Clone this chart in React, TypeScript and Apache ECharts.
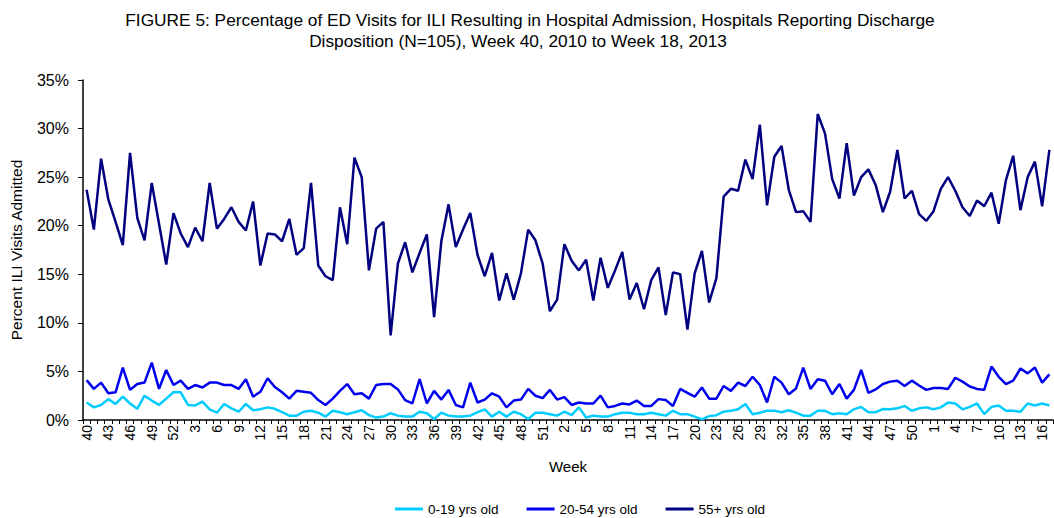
import React, { useEffect, useRef } from "react";
import * as echarts from "echarts";

const weeks: string[] = [
  "40","41","42","43","44","45","46","47","48","49","50","51","52",
  "1","2","3","4","5","6","7","8","9","10","11","12","13","14","15","16","17","18","19","20",
  "21","22","23","24","25","26","27","28","29","30","31","32","33","34","35","36","37","38","39","40",
  "41","42","43","44","45","46","47","48","49","50","51","52",
  "1","2","3","4","5","6","7","8","9","10","11","12","13","14","15","16","17","18","19","20",
  "21","22","23","24","25","26","27","28","29","30","31","32","33","34","35","36","37","38","39","40",
  "41","42","43","44","45","46","47","48","49","50","51","52",
  "1","2","3","4","5","6","7","8","9","10","11","12","13","14","15","16","17",
];

const age0to19: number[] = [
  1.8, 1.3, 1.55, 2.15, 1.65, 2.4, 1.7, 1.15, 2.5, 2.0,
  1.55, 2.2, 2.85, 2.85, 1.55, 1.5, 1.9, 1.1, 0.75, 1.65,
  1.2, 0.85, 1.65, 1.0, 1.1, 1.3, 1.15, 0.8, 0.45, 0.45,
  0.85, 0.95, 0.75, 0.35, 0.95, 0.8, 0.6, 0.8, 1.0, 0.5,
  0.25, 0.35, 0.7, 0.45, 0.35, 0.35, 0.85, 0.7, 0.1, 0.75,
  0.45, 0.35, 0.35, 0.45, 0.8, 1.1, 0.35, 0.85, 0.35, 0.85,
  0.6, 0.1, 0.75, 0.75, 0.6, 0.45, 0.85, 0.5, 1.3, 0.25,
  0.45, 0.35, 0.35, 0.6, 0.75, 0.75, 0.6, 0.6, 0.75, 0.6,
  0.45, 0.95, 0.6, 0.6, 0.35, 0.07, 0.4, 0.5, 0.85, 0.95,
  1.1, 1.65, 0.6, 0.75, 0.95, 0.95, 0.8, 1.0, 0.75, 0.45,
  0.45, 0.95, 0.95, 0.6, 0.7, 0.6, 1.1, 1.35, 0.8, 0.8,
  1.13, 1.1, 1.2, 1.45, 0.95, 1.2, 1.3, 1.1, 1.3, 1.8,
  1.7, 1.1, 1.35, 1.7, 0.6, 1.35, 1.5, 0.95, 0.95, 0.85,
  1.7, 1.5, 1.7, 1.5,
];

const age20to54: number[] = [
  4.1, 3.2, 3.85, 2.75, 2.85, 5.4, 3.1, 3.7, 3.85, 5.9,
  3.2, 5.15, 3.6, 4.05, 3.2, 3.6, 3.35, 3.85, 3.85, 3.6,
  3.6, 3.2, 4.2, 2.4, 2.9, 4.3, 3.4, 2.85, 2.2, 3.0,
  2.9, 2.8, 2.05, 1.55, 2.2, 3.0, 3.7, 2.65, 2.75, 2.2,
  3.6, 3.7, 3.7, 3.15, 2.05, 1.7, 4.2, 1.7, 3.0, 2.1,
  3.1, 1.55, 1.3, 3.85, 1.8, 2.1, 2.75, 2.4, 1.3, 2.0,
  2.1, 3.2, 2.5, 2.25, 3.1, 2.1, 2.35, 1.55, 1.8, 1.7,
  1.7, 2.5, 1.3, 1.45, 1.7, 1.6, 2.0, 1.45, 1.45, 2.15,
  2.05, 1.45, 3.2, 2.8, 2.4, 3.35, 2.2, 2.2, 3.5, 3.0,
  3.85, 3.5, 4.45, 3.6, 1.8, 4.45, 3.85, 2.65, 3.25, 5.4,
  3.2, 4.2, 4.05, 2.65, 3.7, 2.2, 3.1, 5.15, 2.8, 3.15,
  3.7, 3.95, 4.05, 3.5, 4.05, 3.55, 3.1, 3.3, 3.3, 3.2,
  4.35, 3.95, 3.45, 3.2, 3.1, 5.5, 4.45, 3.7, 4.05, 5.3,
  4.8, 5.4, 3.85, 4.7,
];

const age55plus: number[] = [
  23.7, 19.6, 26.9, 22.7, 20.4, 18.0, 27.5, 20.8, 18.5, 24.4,
  20.2, 16.0, 21.3, 19.2, 17.8, 19.8, 18.4, 24.4, 19.7, 20.7,
  21.9, 20.4, 19.5, 22.5, 15.9, 19.2, 19.1, 18.4, 20.7, 17.0,
  17.7, 24.4, 15.9, 14.8, 14.4, 21.9, 18.1, 27.0, 25.0, 15.4,
  19.7, 20.4, 8.7, 16.1, 18.3, 15.2, 17.2, 19.1, 10.6, 18.4,
  22.2, 17.8, 19.6, 21.3, 17.0, 14.8, 17.2, 12.3, 15.1, 12.4,
  15.1, 19.6, 18.5, 16.1, 11.2, 12.4, 18.1, 16.4, 15.4, 16.5,
  12.3, 16.7, 13.6, 15.4, 17.3, 12.4, 14.1, 11.4, 14.4, 15.7,
  10.8, 15.2, 15.0, 9.3, 15.1, 17.4, 12.1, 14.6, 23.0, 23.8,
  23.6, 26.8, 24.8, 30.4, 22.1, 27.1, 28.2, 23.7, 21.4, 21.5,
  20.4, 31.5, 29.5, 24.8, 22.8, 28.5, 23.1, 25.0, 25.8, 24.2,
  21.4, 23.5, 27.8, 22.8, 23.6, 21.2, 20.5, 21.5, 23.8, 25.0,
  23.6, 21.9, 21.0, 22.6, 22.0, 23.4, 20.2, 24.7, 27.2, 21.6,
  25.0, 26.6, 22.0, 27.8,
];

const seriesNames = ["0-19 yrs old", "20-54 yrs old", "55+ yrs old"];
const seriesColors = ["#00CCFF", "#0000EE", "#000080"];

const titleLine1 =
  "FIGURE 5: Percentage of ED Visits for ILI Resulting in Hospital Admission, Hospitals Reporting Discharge";
const titleLine2 = "Disposition (N=105), Week 40, 2010 to Week 18, 2013";

const FONT = "'Liberation Sans', Arial, sans-serif";

export default function App() {
  const ref = useRef<HTMLDivElement>(null);

  useEffect(() => {
    if (!ref.current) return;
    const chart = echarts.init(ref.current, undefined, { renderer: "svg" });
    const values = [age0to19, age20to54, age55plus];
    const titleStyle = {
      fontFamily: FONT,
      fontSize: 17.3,
      fontWeight: "normal",
      color: "#000",
    };
    chart.setOption({
      animation: false,
      backgroundColor: "#ffffff",
      textStyle: { fontFamily: FONT, color: "#000" },
      title: [
        { text: titleLine1, left: 530, top: 11, textAlign: "center", padding: 0, textStyle: titleStyle },
        { text: titleLine2, left: 518, top: 32, textAlign: "center", padding: 0, textStyle: titleStyle },
      ],
      legend: {
        top: 497,
        left: 390,
        icon: "rect",
        itemWidth: 28,
        itemHeight: 3,
        itemGap: 28,
        textStyle: { fontFamily: FONT, fontSize: 13.5, color: "#000" },
        data: seriesNames,
      },
      grid: { left: 81, top: 80, width: 972, height: 340, containLabel: false },
      xAxis: {
        type: "category",
        data: weeks,
        boundaryGap: true,
        name: "Week",
        nameLocation: "middle",
        nameGap: 39,
        nameTextStyle: { fontFamily: FONT, fontSize: 15, color: "#000" },
        axisLine: { lineStyle: { color: "#000", width: 1.5 } },
        axisTick: { show: true, interval: 0, length: 4, lineStyle: { color: "#000" } },
        axisLabel: {
          interval: 2,
          rotate: 90,
          margin: 5,
          fontFamily: FONT,
          fontSize: 14,
          color: "#000",
        },
        splitLine: { show: false },
      },
      yAxis: {
        type: "value",
        min: 0,
        max: 35,
        interval: 5,
        name: "Percent ILI Visits Admitted",
        nameLocation: "middle",
        nameGap: 59,
        nameTextStyle: { fontFamily: FONT, fontSize: 15.5, color: "#000" },
        axisLine: { show: true, lineStyle: { color: "#000", width: 1.5 } },
        axisTick: { show: true, length: 5, lineStyle: { color: "#000" } },
        axisLabel: {
          formatter: "{value}%",
          margin: 14,
          fontFamily: FONT,
          fontSize: 16,
          color: "#000",
        },
        splitLine: { show: false },
      },
      series: seriesNames.map((name, k) => ({
        name,
        type: "line",
        data: values[k],
        showSymbol: false,
        symbol: "none",
        lineStyle: { color: seriesColors[k], width: 2.5 },
        itemStyle: { color: seriesColors[k] },
        z: 3 - k,
      })),
    });
    return () => chart.dispose();
  }, []);

  return (
    <div
      ref={ref}
      style={{ position: "fixed", left: 0, top: 0, width: 1054, height: 518, background: "#fff" }}
    />
  );
}
